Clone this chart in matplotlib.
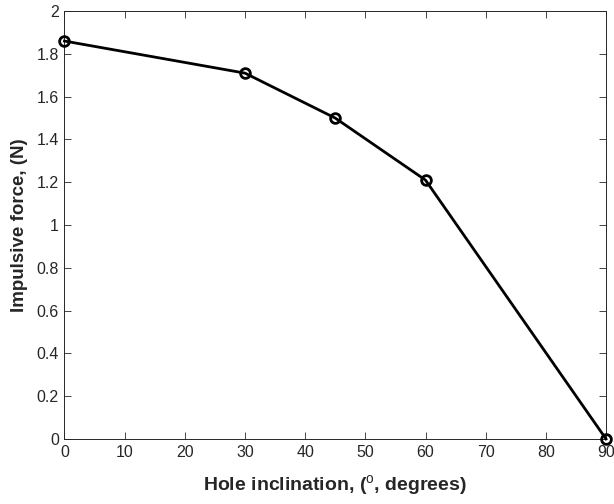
import matplotlib
matplotlib.use("Agg")
import matplotlib.pyplot as plt

plt.rcParams['font.family'] = ['Liberation Sans', 'DejaVu Sans']
plt.rcParams['mathtext.fontset'] = 'custom'
plt.rcParams['mathtext.rm'] = 'Liberation Sans'
plt.rcParams['mathtext.bf'] = 'Liberation Sans:bold'

inclination = [0, 30, 45, 60, 90]
force = [1.86, 1.71, 1.50, 1.21, 0.0]
xticks = [0, 10, 20, 30, 40, 50, 60, 70, 80, 90]
yticks = [0, 0.2, 0.4, 0.6, 0.8, 1, 1.2, 1.4, 1.6, 1.8, 2]
ytick_labels = ['0', '0.2', '0.4', '0.6', '0.8', '1', '1.2', '1.4', '1.6', '1.8', '2']

fig = plt.figure(figsize=(6.14, 5.04), dpi=100)
ax = fig.add_axes([0.105, 0.129, 0.882, 0.849])
ax.plot(inclination, force, color='black', linewidth=2, marker='o', markersize=7,
        markerfacecolor='none', markeredgewidth=2, clip_on=False, zorder=5)
ax.set_xlim(0, 90)
ax.set_ylim(0, 2)
ax.set_xticks(xticks)
ax.set_yticks(yticks)
ax.set_yticklabels(ytick_labels)
ax.tick_params(direction='in', length=5, width=0.6, colors='#262626', labelsize=11.5,
               top=True, right=True, pad=4)
for s in ax.spines.values():
    s.set_color('#262626')
    s.set_linewidth(0.7)
ax.set_xlabel(r'Hole inclination, ($^{\mathrm{o}}$, degrees)', fontsize=14, fontweight='bold',
              labelpad=10, color='#262626')
ax.set_ylabel('Impulsive force, (N)', fontsize=13.5, fontweight='bold', labelpad=6, color='#262626')
fig.savefig('out.png', dpi=100)
